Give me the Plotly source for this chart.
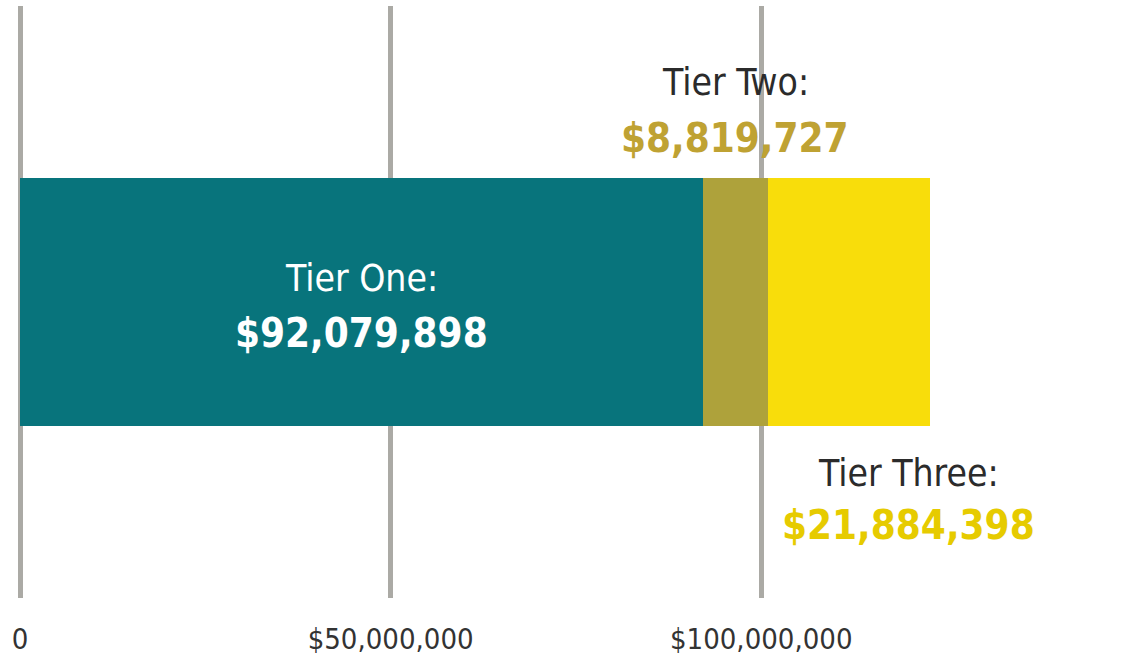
import plotly.graph_objects as go

tiers = ["Tier One", "Tier Two", "Tier Three"]
amounts = [92079898, 8819727, 21884398]
bar_colors = ["#08747c", "#aea23b", "#f8dd0b"]
value_colors = ["#ffffff", "#bfa233", "#e6cb00"]
label_colors = ["#ffffff", "#2b2b2b", "#2b2b2b"]
tick_values = [0, 50000000, 100000000]
tick_labels = ["0", "$50,000,000", "$100,000,000"]

FONT = "DejaVu Sans Condensed, Liberation Sans Narrow, Arial Narrow, sans-serif"

fig = go.Figure()
for name, amt, col in zip(tiers, amounts, bar_colors):
    fig.add_trace(go.Bar(
        x=[amt], y=[0], orientation="h", name=name,
        marker=dict(color=col, line=dict(width=0)),
        width=0.419, hoverinfo="skip", showlegend=False,
    ))

# label positions (x in data units, y in axis units)
cum = [0]
for a in amounts:
    cum.append(cum[-1] + a)
label_x = [amounts[0] / 2, cum[1] + amounts[1] / 2, 119800000]
label_y = [0.040, 0.370, -0.289]
value_y = [-0.052, 0.277, -0.377]

for i, name in enumerate(tiers):
    fig.add_annotation(
        x=label_x[i], y=label_y[i], xref="x", yref="y",
        text=name + ":", showarrow=False,
        font=dict(family=FONT, size=37, color=label_colors[i]),
        xanchor="center", yanchor="middle",
    )
    fig.add_annotation(
        x=label_x[i], y=value_y[i], xref="x", yref="y",
        text="<b>${:,}</b>".format(amounts[i]), showarrow=False,
        font=dict(family=FONT, size=40, color=value_colors[i]),
        xanchor="center", yanchor="middle",
    )

fig.update_layout(
    width=1123, height=660,
    margin=dict(l=20, r=3, t=6, b=62, autoexpand=False),
    paper_bgcolor="white", plot_bgcolor="white",
    barmode="stack", bargap=0,
    xaxis=dict(
        range=[0, 148400000], tickvals=tick_values, ticktext=tick_labels,
        showgrid=True, gridcolor="#abaaa5", gridwidth=5,
        zeroline=True, zerolinecolor="#abaaa5", zerolinewidth=5,
        showline=False, ticks="", automargin=False,
        tickfont=dict(family=FONT, size=29, color="#333333"),
        ticklabelstandoff=21, fixedrange=True,
    ),
    yaxis=dict(
        range=[-0.5, 0.5], showgrid=False, zeroline=False, automargin=False,
        showticklabels=False, showline=False, ticks="", fixedrange=True,
    ),
)

fig.write_html(
    "out.html",
    config={"displayModeBar": False, "staticPlot": True},
    post_script="document.body.style.margin='0';document.body.style.overflow='hidden';",
)
